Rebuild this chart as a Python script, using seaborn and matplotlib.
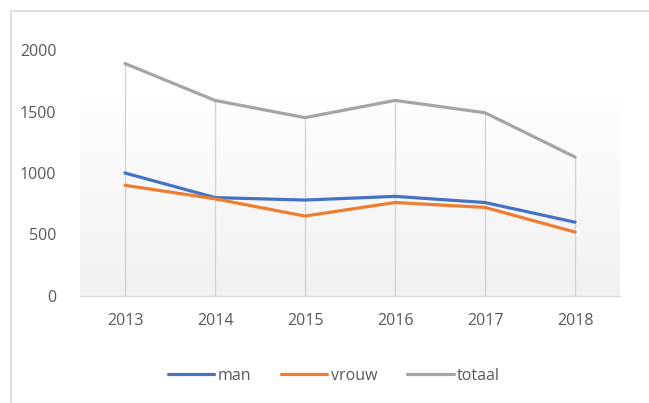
import numpy as np
import pandas as pd
import matplotlib
matplotlib.use('Agg')
import matplotlib.pyplot as plt
from matplotlib.colors import LinearSegmentedColormap
from matplotlib.patches import Rectangle
import seaborn as sns

# data
years = [2013, 2014, 2015, 2016, 2017, 2018]
man = [1000, 800, 780, 810, 760, 600]
vrouw = [900, 790, 650, 760, 720, 520]
totaal = [1890, 1590, 1450, 1590, 1490, 1130]
series_names = ['man', 'vrouw', 'totaal']
colors = ['#4472C4', '#ED7D31', '#A5A5A5']

df = pd.DataFrame({'jaar': years, 'man': man, 'vrouw': vrouw, 'totaal': totaal})
df_long = df.melt(id_vars='jaar', var_name='groep', value_name='aantal')

sns.set_style('white')
plt.rcParams['font.family'] = ['Open Sans', 'DejaVu Sans']

fig = plt.figure(figsize=(6.49, 4.03), dpi=100)
ax = fig.add_axes([80 / 649, 1 - 296 / 403, 540 / 649, 246 / 403])

# chart area border (extends past the image on right/bottom)
fig.patches.append(Rectangle((11 / 649, -0.1), 1.2, 1 - 11 / 403 + 0.1,
                             transform=fig.transFigure, fill=False,
                             edgecolor='#d9d9d9', lw=1.2, zorder=0))

# soft gradient plot background
grad = np.linspace(0, 1, 256).reshape(-1, 1)
cmap = LinearSegmentedColormap.from_list('bg', ['#f1f1f1', '#fefefe'])
ax.imshow(grad, extent=[2012.5, 2018.5, 0, 1620], origin='lower',
          aspect='auto', cmap=cmap, zorder=0)

# drop lines
ax.vlines(years, 0, totaal, color='#d4d4d4', lw=1.0, zorder=1)

sns.lineplot(data=df_long, x='jaar', y='aantal', hue='groep',
             hue_order=series_names, palette=colors, lw=2.3, ax=ax,
             zorder=3)

ax.set_xlim(2012.5, 2018.5)
ax.set_ylim(0, 2000)
ax.set_xticks(years)
ax.set_xticklabels([str(y) for y in years])
ax.set_yticks([0, 500, 1000, 1500, 2000])
ax.set_xlabel('')
ax.set_ylabel('')
for s in ['top', 'right', 'left']:
    ax.spines[s].set_visible(False)
ax.spines['bottom'].set_color('#d9d9d9')
ax.spines['bottom'].set_linewidth(1.0)
ax.tick_params(axis='both', length=0, labelsize=11.5, colors='#595959')
ax.tick_params(axis='x', pad=12)
ax.tick_params(axis='y', pad=17)

leg = ax.legend(loc='center', bbox_to_anchor=(0.47, -0.325), ncol=3,
                frameon=False, fontsize=11.5, handlelength=2.9,
                handletextpad=0.2, columnspacing=1.9)
for t in leg.get_texts():
    t.set_color('#595959')

fig.savefig('out.png', dpi=100, facecolor='white')
